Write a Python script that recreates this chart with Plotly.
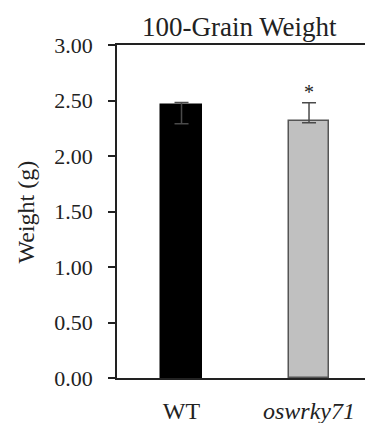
import plotly.graph_objects as go

categories = ["WT", "oswrky71"]
tick_labels = ["WT", "<i>oswrky71</i>"]
weights = [2.457, 2.315]
err_plus = [0.025, 0.165]
err_minus = [0.167, 0.015]
bar_colors = ["#000000", "#c0c0c0"]
bar_lines = ["#000000", "#555555"]
y_ticks = [0.0, 0.5, 1.0, 1.5, 2.0, 2.5, 3.0]
y_tick_text = ["0.00", "0.50", "1.00", "1.50", "2.00", "2.50", "3.00"]
sig_marks = ["", "*"]
sig_y = [None, 2.575]

FONT = "Liberation Serif, Times New Roman, serif"

fig = go.Figure()
fig.add_trace(go.Bar(
    x=categories, y=weights, width=0.32,
    marker=dict(color=bar_colors, line=dict(color=bar_lines, width=1.5)),
    error_y=dict(type="data", symmetric=False, array=err_plus, arrayminus=err_minus,
                 color="#4a4a4a", thickness=1.5, width=7),
    showlegend=False,
))

for c, m, yy in zip(categories, sig_marks, sig_y):
    if m:
        fig.add_annotation(x=c, y=yy, text=m, showarrow=False, xref="x", yref="y",
                           font=dict(family=FONT, size=20, color="#222"), yanchor="middle")

fig.add_annotation(text="100-Grain Weight", xref="paper", yref="paper",
                   x=0.492, y=1.054, showarrow=False, xanchor="center", yanchor="middle",
                   font=dict(family=FONT, size=27, color="#222"))
fig.add_annotation(text="Weight (g)", xref="paper", yref="paper",
                   x=-0.367, y=0.5, showarrow=False, textangle=-90,
                   xanchor="center", yanchor="middle",
                   font=dict(family=FONT, size=24, color="#222"))

fig.update_layout(
    width=365, height=423,
    margin=dict(l=117, r=0, t=45, b=45, autoexpand=False),
    plot_bgcolor="white", paper_bgcolor="white",
    font=dict(family=FONT, color="#222"),
    bargap=0,
)
fig.update_xaxes(
    type="category", range=[-0.506, 1.439],
    tickvals=categories, ticktext=tick_labels,
    showline=True, linecolor="#222", linewidth=1.5, mirror=True,
    ticks="", showgrid=False, zeroline=False, automargin=False,
    tickfont=dict(family=FONT, size=24, color="#222"),
    ticklabelstandoff=10,
)
fig.update_yaxes(
    range=[0, 3.0], tickvals=y_ticks, ticktext=y_tick_text,
    showline=True, linecolor="#222", linewidth=1.5,
    ticks="outside", ticklen=7, tickwidth=1.5, tickcolor="#222",
    showgrid=False, zeroline=False, automargin=False,
    tickfont=dict(family=FONT, size=22, color="#222"),
    ticklabelstandoff=11,
)

fig.write_html(
    "out.html",
    config={"displayModeBar": False},
    post_script="document.body.style.margin='0';document.body.style.overflow='hidden';",
)
